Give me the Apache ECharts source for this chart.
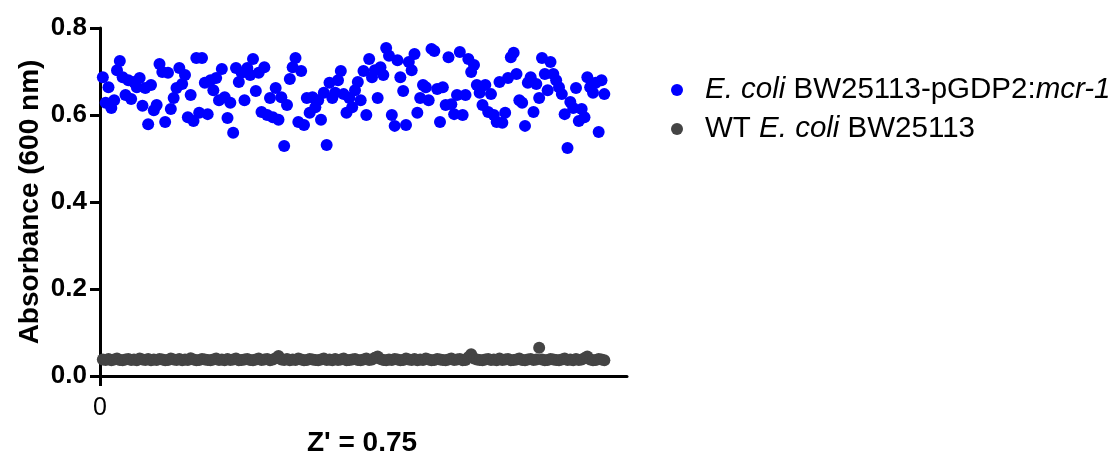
<!DOCTYPE html>
<html>
<head>
<meta charset="utf-8">
<script src="https://cdn.jsdelivr.net/npm/echarts@6/dist/echarts.min.js"></script>
<style>
  html, body { margin: 0; padding: 0; background: #fff; }
  #chart { width: 1115px; height: 454px; }
</style>
</head>
<body>
<div id="chart"></div>
<script>
// absorbance per well, in plate order
const mcrValues = [
  0.687, 0.628, 0.664, 0.616, 0.634, 0.703, 0.724, 0.687, 0.646, 0.680,
  0.637, 0.676, 0.664, 0.685, 0.621, 0.662, 0.579, 0.669, 0.611, 0.623,
  0.717, 0.699, 0.584, 0.697, 0.614, 0.639, 0.662, 0.708, 0.671, 0.692,
  0.595, 0.646, 0.586, 0.731,
  0.605, 0.731, 0.674, 0.602, 0.680, 0.657, 0.685, 0.634, 0.706, 0.641,
  0.593, 0.628, 0.559, 0.708, 0.676, 0.697, 0.634, 0.708, 0.692, 0.729,
  0.655, 0.697, 0.607, 0.710, 0.600, 0.639, 0.595, 0.662, 0.589, 0.641,
  0.529, 0.623, 0.683, 0.710, 0.731, 0.584,
  0.701, 0.577, 0.639, 0.605, 0.641, 0.618, 0.634, 0.589, 0.651, 0.531,
  0.674, 0.639, 0.651, 0.680, 0.701, 0.648, 0.605, 0.639, 0.618, 0.657,
  0.676, 0.634, 0.701, 0.600, 0.729, 0.687, 0.703, 0.639, 0.710, 0.692,
  0.754, 0.736, 0.600, 0.575,
  0.726, 0.687, 0.655, 0.577, 0.722, 0.703, 0.740, 0.605, 0.639, 0.669,
  0.664, 0.634, 0.752, 0.747, 0.660, 0.584, 0.664, 0.623, 0.733, 0.625,
  0.602, 0.646, 0.745, 0.600, 0.646, 0.729, 0.699, 0.715, 0.669, 0.651,
  0.623, 0.669, 0.607, 0.648, 0.600, 0.584, 0.676,
  0.582, 0.605, 0.685, 0.733, 0.743, 0.694, 0.634, 0.628, 0.575, 0.674,
  0.687, 0.607, 0.671, 0.639, 0.731, 0.694, 0.657, 0.722, 0.694, 0.680,
  0.664, 0.648, 0.602, 0.524, 0.630, 0.616, 0.662, 0.586, 0.614, 0.595,
  0.687, 0.664, 0.651, 0.674, 0.561, 0.680, 0.648
];

const wtValues = [
  0.038, 0.037, 0.039, 0.036, 0.038, 0.040, 0.037, 0.036, 0.038, 0.039,
  0.037, 0.038, 0.036, 0.040, 0.038, 0.037, 0.039, 0.036, 0.038, 0.037,
  0.039, 0.038, 0.036, 0.037, 0.040, 0.038, 0.037, 0.039, 0.036, 0.038,
  0.037, 0.041, 0.038, 0.036, 0.037, 0.039, 0.038, 0.037, 0.036, 0.038,
  0.040, 0.037, 0.038, 0.036, 0.039, 0.037, 0.038, 0.040, 0.036, 0.037,
  0.038, 0.039, 0.037, 0.036, 0.038, 0.040, 0.037, 0.038, 0.039, 0.036,
  0.038, 0.041, 0.046, 0.038, 0.037, 0.039, 0.036, 0.038, 0.037, 0.040,
  0.038, 0.036, 0.037, 0.039, 0.038, 0.037, 0.036, 0.038, 0.040, 0.037,
  0.038, 0.036, 0.039, 0.037, 0.038, 0.040, 0.036, 0.037, 0.038, 0.039,
  0.037, 0.036, 0.038, 0.040, 0.037, 0.038, 0.042, 0.045, 0.039, 0.037,
  0.036, 0.038, 0.037, 0.039, 0.038, 0.036, 0.037, 0.040, 0.038, 0.037,
  0.039, 0.036, 0.038, 0.037, 0.040, 0.038, 0.036, 0.037, 0.039, 0.038,
  0.037, 0.036, 0.038, 0.040, 0.037, 0.038, 0.039, 0.036, 0.037, 0.043,
  0.050, 0.040, 0.038, 0.037, 0.036, 0.038, 0.039, 0.037, 0.038, 0.036,
  0.040, 0.037, 0.038, 0.039, 0.036, 0.037, 0.038, 0.040, 0.037, 0.036,
  0.038, 0.039, 0.037, 0.038, 0.065, 0.038, 0.036, 0.037, 0.039, 0.038,
  0.037, 0.036, 0.038, 0.040, 0.037, 0.038, 0.036, 0.039, 0.037, 0.038,
  0.041, 0.045, 0.038, 0.036, 0.037, 0.039, 0.038, 0.036
];

const yTicks = [0, 0.2, 0.4, 0.6, 0.8];
const seriesNames = ['mcr', 'wt'];
const xLabel = "Z' = 0.75";
const yLabel = 'Absorbance (600 nm)';

const chart = echarts.init(document.getElementById('chart'));

const toPairs = arr => arr.map((v, i) => [i + 1, v]);

const axisLine = { show: true, lineStyle: { color: '#000', width: 3 } };

chart.setOption({
  animation: false,
  textStyle: { fontFamily: 'Liberation Sans, Arial, sans-serif' },
  grid: { left: 100, right: 488, top: 28, bottom: 78 },
  title: {
    text: xLabel,
    left: 357, top: 424, textAlign: 'center',
    textStyle: { fontSize: 28, fontWeight: 'bold', color: '#000' }
  },
  legend: {
    orient: 'vertical',
    left: 666, top: 70,
    itemWidth: 12, itemHeight: 12, itemGap: 9,
    icon: 'circle',
    data: seriesNames,
    formatter: name => name === 'mcr'
      ? '{i|E. coli}{n| BW25113-pGDP2:}{i|mcr-1}'
      : '{n|WT }{i|E. coli}{n| BW25113}',
    textStyle: {
      padding: [0, 0, 0, 17],
      rich: {
        i: { fontSize: 29.5, fontStyle: 'italic', color: '#000', lineHeight: 32 },
        n: { fontSize: 29.5, color: '#000', lineHeight: 32 }
      }
    }
  },
  xAxis: {
    type: 'value',
    min: 0, max: 186,
    splitLine: { show: false },
    axisLine: axisLine,
    axisTick: { show: true, customValues: [0], length: 10, lineStyle: { color: '#000', width: 3 } },
    axisLabel: { customValues: [0], fontSize: 25, color: '#000', margin: 20 }
  },
  yAxis: {
    type: 'value',
    min: 0, max: 0.8, interval: 0.2,
    name: yLabel,
    nameLocation: 'middle',
    nameGap: 56,
    nameTextStyle: { fontSize: 28, fontWeight: 'bold', color: '#000' },
    splitLine: { show: false },
    axisLine: axisLine,
    axisTick: { show: true, length: 10, lineStyle: { color: '#000', width: 3 } },
    axisLabel: {
      customValues: yTicks,
      formatter: v => v.toFixed(1),
      fontSize: 26, fontWeight: 'bold', color: '#000', margin: 13
    }
  },
  series: [
    {
      name: 'mcr', type: 'scatter',
      symbolSize: 12,
      itemStyle: { color: '#0000ff', opacity: 1 },
      data: toPairs(mcrValues)
    },
    {
      name: 'wt', type: 'scatter',
      symbolSize: 12,
      itemStyle: { color: '#444444', opacity: 1 },
      data: toPairs(wtValues)
    }
  ]
});
</script>
</body>
</html>
